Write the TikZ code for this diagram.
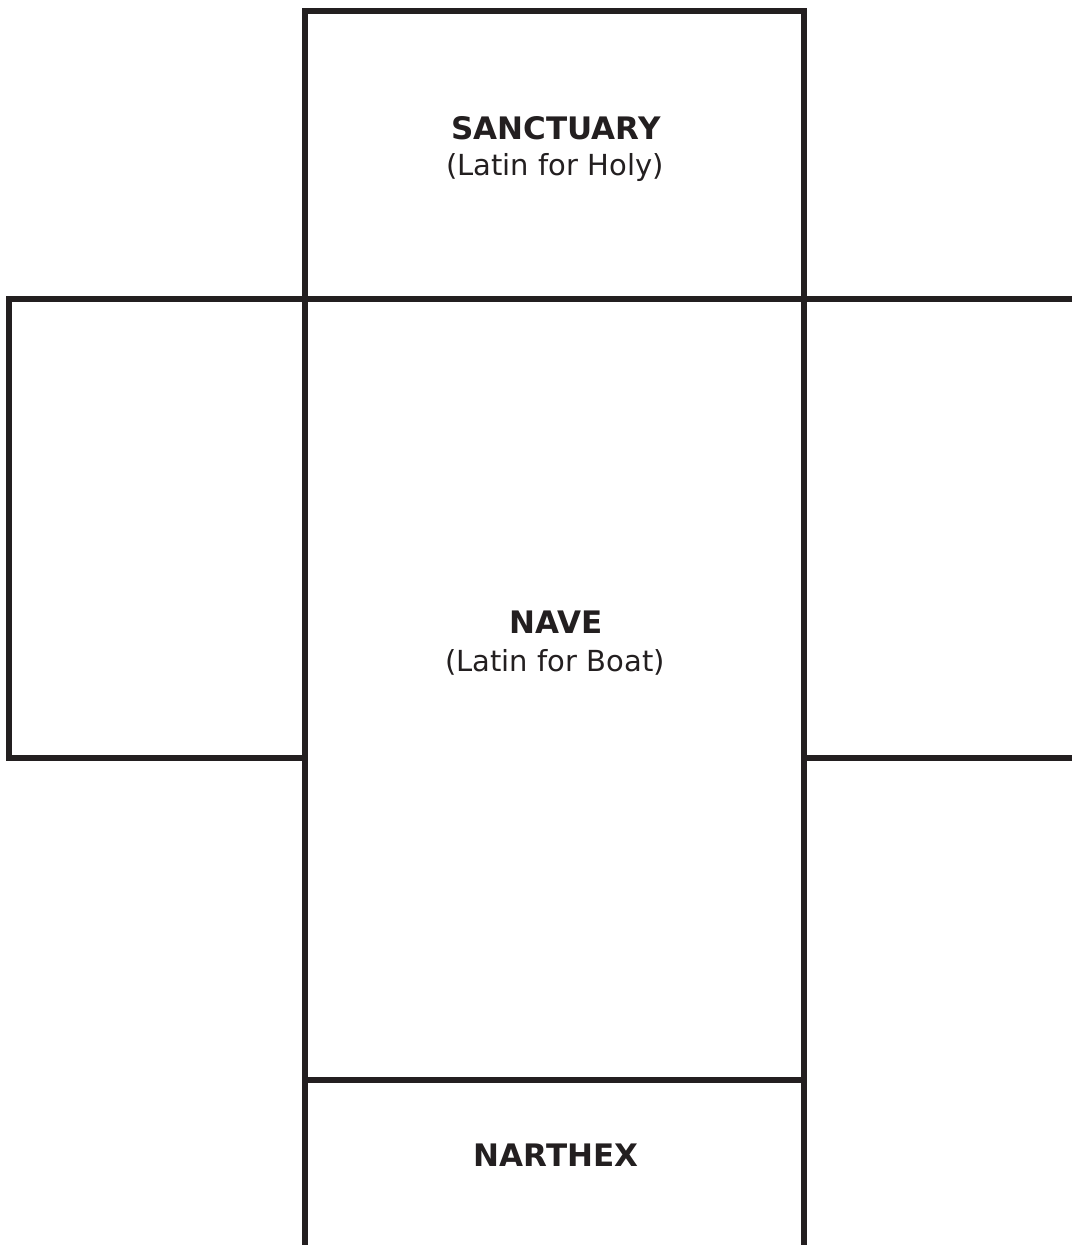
\documentclass[tikz,border=0pt]{standalone}
\usepackage{fontspec}
\setmainfont{DejaVu Sans}
\usepackage{xcolor}
\definecolor{wallcol}{HTML}{231F20}
\definecolor{textcol}{HTML}{231F20}

\begin{document}
\begin{tikzpicture}[x=1pt,y=-1pt,
  wall/.style={draw=wallcol,line width=5.5pt},
  roomname/.style={font=\bfseries\fontsize{31}{36}\selectfont,text=textcol,inner sep=0pt},
  roomnote/.style={font=\fontsize{29}{34}\selectfont,text=textcol,inner sep=0pt}]
\useasboundingbox (0,0) rectangle (1071,1245);
% side wings
\draw[wall] (305,299) -- (9,299) -- (9,758) -- (305,758);
\draw[wall] (804,299) -- (1075,299);
\draw[wall] (804,758) -- (1075,758);
% central axis
\draw[wall] (305,1250) -- (305,11) -- (804,11) -- (804,1250);
\draw[wall] (305,299) -- (804,299);
\draw[wall] (305,1080) -- (804,1080);
% labels
\node[roomname] (sanct) at (556,128) {SANCTUARY};
\node[roomnote] (sanctnote) at (555,167) {(Latin for Holy)};
\node[roomname] (nave) at (556,622) {NAVE};
\node[roomnote] (navenote) at (555,662) {(Latin for Boat)};
\node[roomname] (narthex) at (556,1155) {NARTHEX};
\end{tikzpicture}
\end{document}
